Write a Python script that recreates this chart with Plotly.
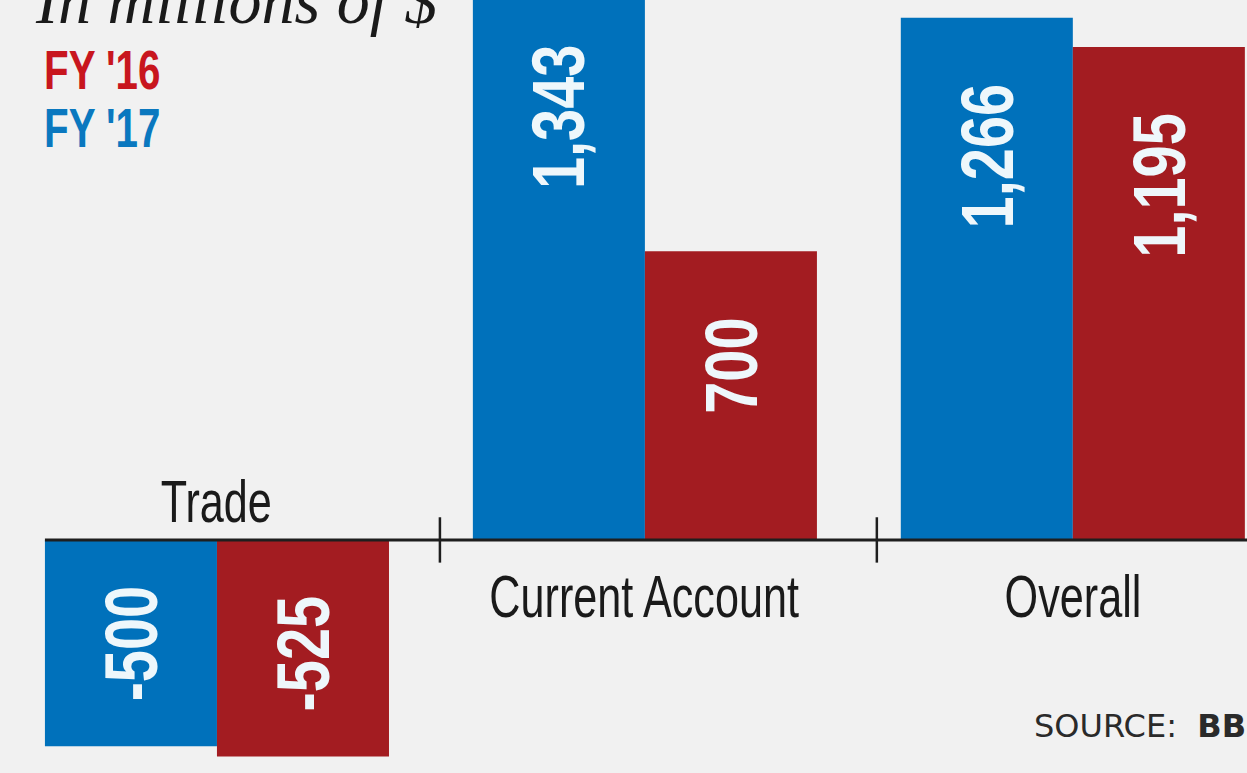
import json
import plotly.graph_objects as go

categories = ["Trade", "Current Account", "Overall"]
fy17 = [-500, 1343, 1266]
fy16 = [-525, 700, 1195]
fy17_labels = ["-500", "1,343", "1,266"]
fy16_labels = ["-525", "700", "1,195"]

BLUE = "#0071bb"
RED = "#a31c21"
BG = "#f1f1f1"
SANS = "Liberation Sans, Arial, sans-serif"
YMIN, YMAX = -565, 1309

xs = list(range(len(categories)))
BAR_W = 0.402

fig = go.Figure()
fig.add_trace(go.Bar(x=[x - BAR_W / 2 for x in xs], y=fy17, width=BAR_W,
                     marker=dict(color=BLUE, line=dict(width=0)), name="FY '17"))
fig.add_trace(go.Bar(x=[x + BAR_W / 2 for x in xs], y=fy16, width=BAR_W,
                     marker=dict(color=RED, line=dict(width=0)), name="FY '16"))

ann = []
squeeze = {}  # annotation index -> [scaleX, transform-origin]

def add(a, scale=None, origin="center"):
    if scale is not None:
        squeeze[len(ann)] = [scale, origin]
    ann.append(a)

# value labels inside bars (rotated, reading upward)
for vals, labs, off, neg_shift in ((fy17, fy17_labels, -BAR_W / 2, -44), (fy16, fy16_labels, BAR_W / 2, -54)):
    for x, v, t in zip(xs, vals, labs):
        if v > YMAX:
            y, shift = YMAX - 1, -42
        elif v > 0:
            y, shift = v, -64
        else:
            y, shift = 0, neg_shift
        add(dict(x=x + off, y=y, xref="x", yref="y", text="<b>" + t + "</b>", showarrow=False,
                 textangle=-90, yanchor="top", xanchor="center", yshift=shift,
                 font=dict(family=SANS, size=75, color="#eef7fb")), 0.77, "right center")

# category labels
for x, c, v in zip(xs, categories, fy17):
    if v < 0:
        add(dict(x=x, y=0, xref="x", yref="y", text=c, showarrow=False,
                 yanchor="bottom", yshift=3, font=dict(family=SANS, size=60, color="#1a1a1a")), 0.72, "center")
    else:
        add(dict(x=x, y=0, xref="x", yref="y", text=c, showarrow=False,
                 yanchor="top", yshift=-21, font=dict(family=SANS, size=60, color="#1a1a1a")), 0.72, "center")

# title, legend texts, source
add(dict(x=33 / 1247, y=1 - 39 / 773, xref="paper", yref="paper", text="<i>In millions of $</i>",
         showarrow=False, xanchor="left", yanchor="bottom",
         font=dict(family="Liberation Serif, DejaVu Serif, serif", size=66, color="#1a1a1a")))
add(dict(x=42 / 1247, y=1 - 36 / 773, xref="paper", yref="paper", text="<b>FY '16</b>",
         showarrow=False, xanchor="left", yanchor="top",
         font=dict(family=SANS, size=56, color="#c8161e")), 0.72, "left center")
add(dict(x=42 / 1247, y=1 - 94 / 773, xref="paper", yref="paper", text="<b>FY '17</b>",
         showarrow=False, xanchor="left", yanchor="top",
         font=dict(family=SANS, size=56, color="#0a78bf")), 0.72, "left center")
add(dict(x=1032 / 1247, y=1 - 705 / 773, xref="paper", yref="paper", text="SOURCE:&nbsp;&nbsp;<b>BBS</b>",
         showarrow=False, xanchor="left", yanchor="top",
         font=dict(family="DejaVu Sans, sans-serif", size=32, color="#2a2a2a")))

shapes = [dict(type="line", xref="x", yref="y", x0=-0.402, x1=2.6, y0=0, y1=0,
               line=dict(color="#1e1e1e", width=3))]
for tx in (0.521, 1.542):
    shapes.append(dict(type="line", xref="x", yref="y", x0=tx, x1=tx, y0=-55, y1=55,
                       line=dict(color="#1e1e1e", width=2.5)))

fig.update_layout(
    width=1247, height=773, margin=dict(l=0, r=0, t=0, b=0),
    paper_bgcolor=BG, plot_bgcolor=BG, showlegend=False, barmode="overlay",
    xaxis=dict(range=[-0.507, 2.407], visible=False, fixedrange=True),
    yaxis=dict(range=[YMIN, YMAX], visible=False, fixedrange=True),
    annotations=ann, shapes=shapes,
)

post = """
document.body.style.margin = '0';
document.body.style.background = '%s';
var SPECS = %s;
function squeezeText() {
  document.querySelectorAll('g.annotation').forEach(function (g) {
    var s = SPECS[g.getAttribute('data-index')];
    if (!s) return;
    var t = g.querySelector('text.annotation-text');
    if (!t) return;
    t.style.transformBox = 'fill-box';
    t.style.transformOrigin = s[1];
    t.style.transform = 'scaleX(' + s[0] + ')';
  });
}
squeezeText();
setTimeout(squeezeText, 50);
var gd = document.getElementById('{plot_id}');
if (gd && gd.on) gd.on('plotly_afterplot', squeezeText);
""" % (BG, json.dumps({str(k): v for k, v in squeeze.items()}))

fig.write_html("out.html", post_script=post, config={"displayModeBar": False, "staticPlot": True})
